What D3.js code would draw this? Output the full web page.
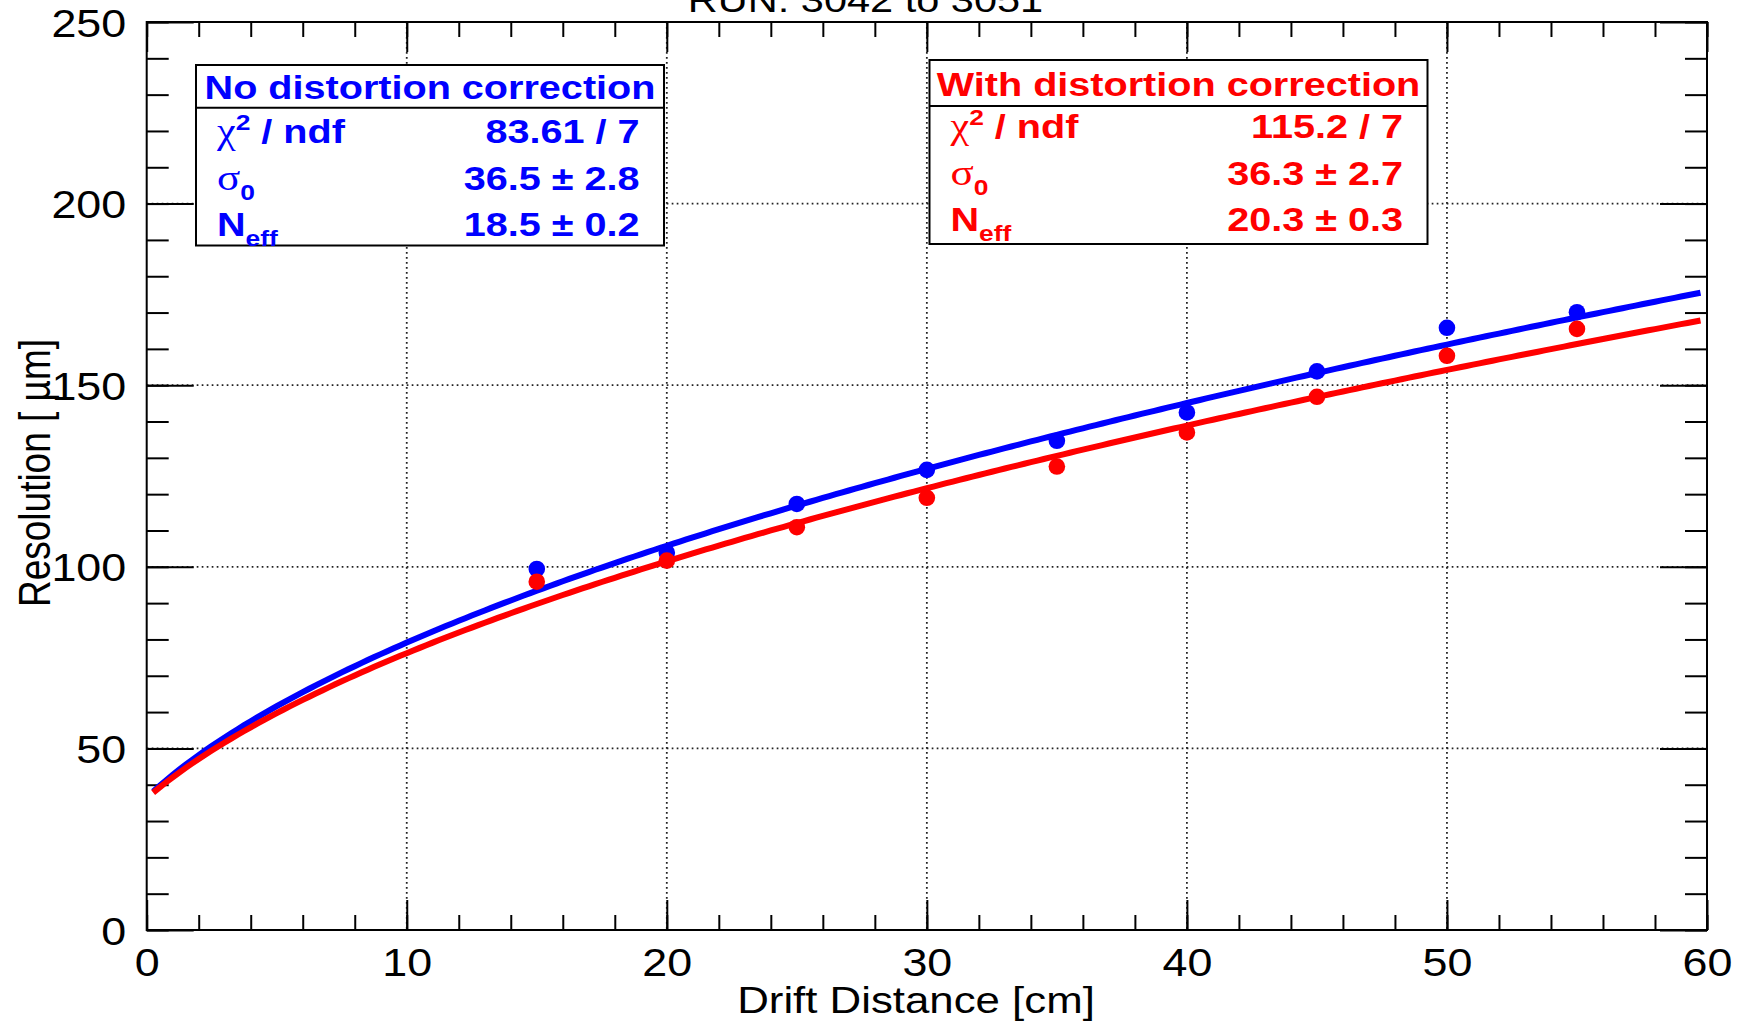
<!DOCTYPE html>
<html>
<head>
<meta charset="utf-8">
<script src="https://cdn.jsdelivr.net/npm/d3@7"></script>
<style>
  html, body { margin: 0; padding: 0; background: #fff; overflow: hidden; }
  svg { display: block; font-family: "Liberation Sans", Arial, Helvetica, sans-serif; }
</style>
</head>
<body>
<svg id="chart" width="1739" height="1021"></svg>
<script>
// ---- measured points: drift distance (cm) vs. resolution (µm) ----
const driftDistance = [15, 20, 25, 30, 35, 40, 45, 50, 55];
const resolutionNoCorrection = [99.4, 103.9, 117.3, 126.7, 134.7, 142.5, 153.8, 165.8, 170.1];
const resolutionWithCorrection = [95.9, 101.7, 110.9, 119.0, 127.6, 137.0, 146.8, 158.1, 165.5];

// ---- fit results: sigma(z) = sqrt(sigma0^2 + Cd^2 * z / Neff) ----
const seriesNames = ["No distortion correction", "With distortion correction"];
const seriesColors = ["#0000ff", "#ff0000"];
const fitChi2 = [83.61, 115.2];
const fitNdf = [7, 7];
const fitSigma0 = [36.5, 36.3];
const fitSigma0Err = [2.8, 2.7];
const fitNeff = [18.5, 20.3];
const fitNeffErr = [0.2, 0.3];
const diffusionSq = 9120;          // Cd^2 in µm^2 / cm
const fitRange = [0.25, 59.75];    // cm

// ---- axes ----
const xMajorTicks = [0, 10, 20, 30, 40, 50, 60];
const xMinorTicks = d3.range(0, 61, 2);
const yMajorTicks = [0, 50, 100, 150, 200, 250];
const yMinorTicks = d3.range(0, 251, 10);
const xGridValues = [10, 20, 30, 40, 50];
const yGridValues = [50, 100, 150, 200];

const titleText = "RUN: 3042 to 3051";
const xTitleText = "Drift Distance [cm]";
const yTitleText = "Resolution [ \u00b5m]";

// ---- layout ----
const frame = { left: 146.7, right: 1707, top: 22, bottom: 930 };
const STRETCH = 1.2;        // titles are drawn horizontally widened
const TICK_STRETCH = 1.15;
const LEG_STRETCH = 1.2;

const svg = d3.select("#chart");
const x = d3.scaleLinear().domain([0, 60]).range([frame.left, frame.right]);
const y = d3.scaleLinear().domain([0, 250]).range([frame.bottom, frame.top]);

// dotted grid
const grid = svg.append("g")
  .attr("stroke", "#222").attr("stroke-width", 1.8).attr("stroke-dasharray", "1.7,3.3");
grid.selectAll("line.gx").data(xGridValues).join("line").attr("class", "gx")
  .attr("x1", d => x(d)).attr("x2", d => x(d))
  .attr("y1", frame.top).attr("y2", frame.bottom);
grid.selectAll("line.gy").data(yGridValues).join("line").attr("class", "gy")
  .attr("x1", frame.left).attr("x2", frame.right)
  .attr("y1", d => y(d)).attr("y2", d => y(d));

// ticks (inward) on all four sides
const xLen = 30, xMinLen = 15, yLen = 47, yMinLen = 22;
function styleAxis(g) {
  g.select(".domain").remove();
  g.selectAll(".tick line").attr("stroke", "#000").attr("stroke-width", 2);
}
svg.append("g").attr("transform", `translate(0,${frame.bottom})`)
  .call(d3.axisBottom(x).tickValues(xMinorTicks).tickSizeInner(-xMinLen).tickSizeOuter(0).tickFormat(""))
  .call(styleAxis);
svg.append("g").attr("transform", `translate(0,${frame.top})`)
  .call(d3.axisTop(x).tickValues(xMinorTicks).tickSizeInner(-xMinLen).tickSizeOuter(0).tickFormat(""))
  .call(styleAxis);
svg.append("g").attr("transform", `translate(0,${frame.top})`)
  .call(d3.axisTop(x).tickValues(xMajorTicks).tickSizeInner(-xLen).tickSizeOuter(0).tickFormat(""))
  .call(styleAxis);
svg.append("g").attr("transform", `translate(${frame.left},0)`)
  .call(d3.axisLeft(y).tickValues(yMinorTicks).tickSizeInner(-yMinLen).tickSizeOuter(0).tickFormat(""))
  .call(styleAxis);
svg.append("g").attr("transform", `translate(${frame.right},0)`)
  .call(d3.axisRight(y).tickValues(yMinorTicks).tickSizeInner(-yMinLen).tickSizeOuter(0).tickFormat(""))
  .call(styleAxis);
svg.append("g").attr("transform", `translate(${frame.right},0)`)
  .call(d3.axisRight(y).tickValues(yMajorTicks).tickSizeInner(-yLen).tickSizeOuter(0).tickFormat(""))
  .call(styleAxis);

// labelled axes
const xAxis = svg.append("g").attr("transform", `translate(0,${frame.bottom})`)
  .call(d3.axisBottom(x).tickValues(xMajorTicks).tickSizeInner(-xLen).tickSizeOuter(0).tickPadding(0))
  .call(styleAxis);
xAxis.selectAll(".tick text")
  .attr("font-size", 39).attr("fill", "#000").attr("font-family", null)
  .attr("dy", null).attr("y", 46)
  .attr("transform", `scale(${TICK_STRETCH},1)`);

const yAxis = svg.append("g").attr("transform", `translate(${frame.left},0)`)
  .call(d3.axisLeft(y).tickValues(yMajorTicks).tickSizeInner(-yLen).tickSizeOuter(0).tickPadding(0))
  .call(styleAxis);
yAxis.selectAll(".tick text")
  .attr("font-size", 39).attr("fill", "#000").attr("font-family", null)
  .attr("dy", null).attr("y", 14).attr("x", -20.5 / TICK_STRETCH)
  .attr("transform", `scale(${TICK_STRETCH},1)`);

// frame
svg.append("rect")
  .attr("x", frame.left).attr("y", frame.top)
  .attr("width", frame.right - frame.left).attr("height", frame.bottom - frame.top)
  .attr("fill", "none").attr("stroke", "#000").attr("stroke-width", 2);

// titles
svg.append("g").attr("transform", `translate(865.5,11.5) scale(${STRETCH},1)`)
  .append("text").attr("text-anchor", "middle").attr("font-size", 34.6).text(titleText);
svg.append("g").attr("transform", `translate(916,1013) scale(${STRETCH},1)`)
  .append("text").attr("text-anchor", "middle").attr("font-size", 36.5).text(xTitleText);
svg.append("g").attr("transform", `translate(50,473) scale(${STRETCH},1) rotate(-90)`)
  .append("text").attr("text-anchor", "middle").attr("font-size", 37).text(yTitleText);

// data points and fit curves
const seriesValues = [resolutionNoCorrection, resolutionWithCorrection];
const fitLine = d3.line().x(d => x(d[0])).y(d => y(d[1]));
const zSamples = d3.range(fitRange[0], fitRange[1] + 1e-9, 0.25);

const plot = svg.append("g");
seriesValues.forEach((vals, i) => {
  plot.append("g").selectAll("circle")
    .data(driftDistance.map((d, k) => [d, vals[k]]))
    .join("circle")
    .attr("cx", d => x(d[0])).attr("cy", d => y(d[1]))
    .attr("r", 8.3).attr("fill", seriesColors[i]);
  const curve = zSamples.map(z => [z, Math.sqrt(fitSigma0[i] ** 2 + diffusionSq * z / fitNeff[i])]);
  plot.append("path").datum(curve)
    .attr("d", fitLine)
    .attr("fill", "none").attr("stroke", seriesColors[i])
    .attr("stroke-width", 6).attr("stroke-linejoin", "round");
});

// fit-statistics boxes
const boxes = [
  { x: 196, y: 65, w: 468, h: 180.5, div: 42.7 },
  { x: 929.5, y: 60, w: 498, h: 184, div: 46 }
];
const rowOffsets = [77.5, 124.5, 171];
const fmt1 = d3.format(".1f");

boxes.forEach((b, i) => {
  const g = svg.append("g").attr("fill", seriesColors[i]);
  g.append("rect").attr("x", b.x).attr("y", b.y).attr("width", b.w).attr("height", b.h)
    .attr("fill", "#fff").attr("stroke", "#000").attr("stroke-width", 2);
  g.append("line").attr("x1", b.x).attr("x2", b.x + b.w)
    .attr("y1", b.y + b.div).attr("y2", b.y + b.div)
    .attr("stroke", "#000").attr("stroke-width", 2);

  const headerY = b.y + (i === 0 ? 34 : 35.5);
  g.append("g").attr("transform", `translate(${b.x + b.w / 2},${headerY}) scale(${LEG_STRETCH},1)`)
    .append("text").attr("text-anchor", "middle").attr("font-size", 33)
    .attr("font-weight", "bold").text(seriesNames[i]);

  const leftX = b.x + 21, rightX = b.x + b.w - 24.5;
  const values = [
    `${fitChi2[i]} / ${fitNdf[i]}`,
    `${fmt1(fitSigma0[i])} \u00b1 ${fmt1(fitSigma0Err[i])}`,
    `${fmt1(fitNeff[i])} \u00b1 ${fmt1(fitNeffErr[i])}`
  ];
  rowOffsets.forEach((off, r) => {
    const rowY = b.y + off;
    const lab = g.append("g").attr("transform", `translate(${leftX},${rowY}) scale(${LEG_STRETCH},1)`)
      .append("text").attr("font-size", 33).attr("font-weight", "bold");
    if (r === 0) {
      lab.append("tspan").attr("font-family", "'Liberation Serif', serif").attr("font-weight", "normal")
        .attr("font-size", 35).text("\u03c7");
      lab.append("tspan").attr("font-size", 22).attr("dy", -13).text("2");
      lab.append("tspan").attr("dy", 13).text(" / ndf");
    } else if (r === 1) {
      lab.append("tspan").attr("font-family", "'Liberation Serif', serif").attr("font-weight", "normal")
        .attr("font-size", 36).text("\u03c3");
      lab.append("tspan").attr("font-size", 22).attr("dy", 10).text("0");
    } else {
      lab.append("tspan").text("N");
      lab.append("tspan").attr("font-size", 22).attr("dy", 10).text("eff");
    }
    g.append("g").attr("transform", `translate(${rightX},${rowY}) scale(${LEG_STRETCH},1)`)
      .append("text").attr("text-anchor", "end").attr("font-size", 33)
      .attr("font-weight", "bold").text(values[r]);
  });
});
</script>
</body>
</html>
